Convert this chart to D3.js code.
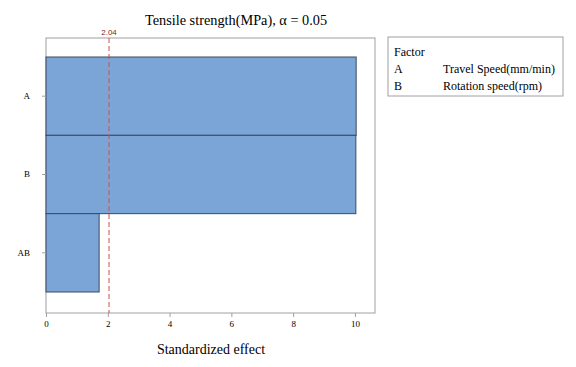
<!DOCTYPE html>
<html><head><meta charset="utf-8">
<script src="https://cdn.jsdelivr.net/npm/d3@7"></script>
<style>body{margin:0;background:#fff}svg{display:block}
.sf{font-family:"Liberation Serif","Times New Roman",Times,serif;}
</style>
</head><body>
<script>
const categories = ["A", "B", "AB"];
const effects = [10.04, 10.03, 1.72];
const xTicks = [0, 2, 4, 6, 8, 10];
const refValue = 2.04;
const refLabel = "2.04";
const legendTitle = "Factor";
const legendKeys = ["A", "B"];
const legendNames = ["Travel Speed(mm/min)", "Rotation speed(rpm)"];

const W = 576, H = 367;
const svg = d3.select("body").append("svg").attr("width", W).attr("height", H);
const frame = {l: 46, r: 375, t: 38, b: 313};
const x = d3.scaleLinear().domain([0, 10.65]).range([frame.l, frame.r]);
const y = d3.scaleBand().domain(categories).range([57, 292]).padding(0);

svg.append("rect").attr("x", frame.l).attr("y", frame.t)
  .attr("width", frame.r - frame.l).attr("height", frame.b - frame.t)
  .attr("fill", "#fff").attr("stroke", "#a0a0a0").attr("stroke-width", 1);

svg.selectAll("rect.bar").data(categories).enter().append("rect")
  .attr("class", "bar")
  .attr("x", x(0)).attr("y", d => y(d))
  .attr("width", (d, i) => x(effects[i]) - x(0))
  .attr("height", y.bandwidth())
  .attr("fill", "#7BA4D7").attr("stroke", "#3b4a60").attr("stroke-width", 1);

svg.append("line").attr("x1", x(refValue)).attr("x2", x(refValue))
  .attr("y1", frame.t).attr("y2", frame.b)
  .attr("stroke", "#d0504e").attr("stroke-width", 1).attr("stroke-dasharray", "5,3");
svg.append("text").attr("x", x(refValue)).attr("y", 35).attr("text-anchor", "middle")
  .style("font-family", "'Liberation Sans',Arial,sans-serif").attr("font-size", 8)
  .attr("fill", "#8b2020").text(refLabel);

const xAxis = svg.append("g").attr("transform", `translate(0,${frame.b})`)
  .call(d3.axisBottom(x).tickValues(xTicks).tickSize(4).tickPadding(4));
xAxis.attr("font-family", null);
xAxis.select(".domain").remove();
xAxis.selectAll("line").attr("stroke", "#a0a0a0");
xAxis.selectAll("text").attr("class", "sf").attr("font-size", 9).attr("fill", "#000");

const yAxis = svg.append("g").attr("transform", `translate(${frame.l},0)`)
  .call(d3.axisLeft(y).tickSize(4).tickPadding(12));
yAxis.attr("font-family", null);
yAxis.select(".domain").remove();
yAxis.selectAll("line").attr("stroke", "#a0a0a0");
yAxis.selectAll("text").attr("class", "sf").attr("font-size", 9).attr("fill", "#000");

svg.append("text").attr("class", "sf").attr("x", 236).attr("y", 25).attr("text-anchor", "middle")
  .attr("font-size", 14.3).text("Tensile strength(MPa), \u03b1 = 0.05");
svg.append("text").attr("class", "sf").attr("x", 211).attr("y", 354).attr("text-anchor", "middle")
  .attr("font-size", 14).text("Standardized effect");

const lg = svg.append("g");
lg.append("rect").attr("x", 388).attr("y", 37).attr("width", 175).attr("height", 59)
  .attr("fill", "#fff").attr("stroke", "#a0a0a0");
lg.append("text").attr("class", "sf").attr("x", 394).attr("y", 56).attr("font-size", 12).text(legendTitle);
legendKeys.forEach((k, i) => {
  lg.append("text").attr("class", "sf").attr("x", 394).attr("y", 73 + i * 17).attr("font-size", 12).text(k);
  lg.append("text").attr("class", "sf").attr("x", 443).attr("y", 73 + i * 17).attr("font-size", 12).text(legendNames[i]);
});
</script>
</body></html>
